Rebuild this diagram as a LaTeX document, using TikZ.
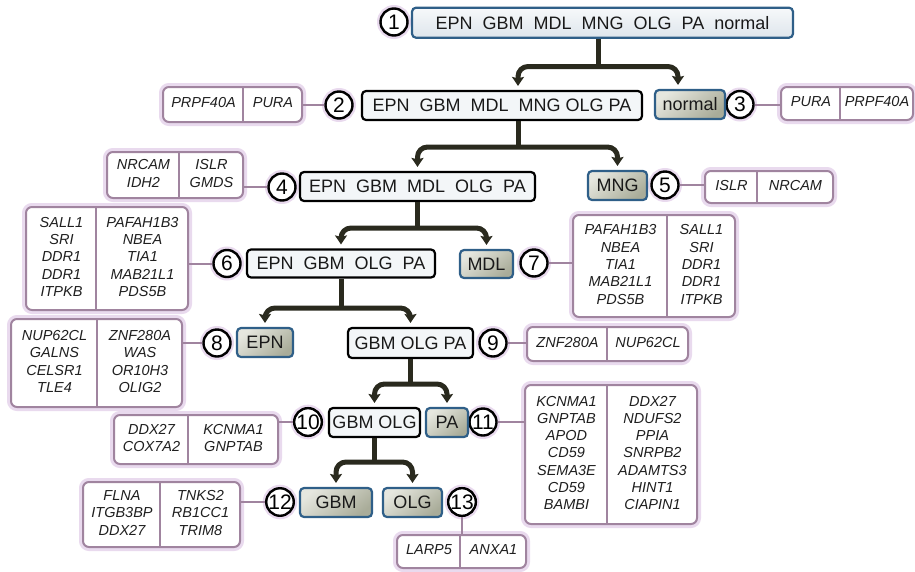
\documentclass[tikz,border=0pt]{standalone}
\usepackage{fontspec}
\setmainfont{Liberation Sans}
\usepackage{array}
\usetikzlibrary{arrows.meta}
\newcolumntype{C}[1]{>{\centering\arraybackslash}p{#1}}
\definecolor{treedark}{HTML}{2A2A1E}
\definecolor{leafedge}{HTML}{2F5F88}
\definecolor{leafhi}{HTML}{E6E7DF}
\definecolor{leaflo}{HTML}{A9AC99}
\definecolor{nodefill}{HTML}{F3F6F8}
\definecolor{geneedge}{HTML}{A0849F}
\definecolor{geneglow}{HTML}{E9DAEE}
\tikzset{
  splitbox/.style={draw=black, line width=2.2pt, rounded corners=4pt, fill=nodefill,
    inner sep=0pt, text=black!90, font=\fontsize{18}{20}\selectfont},
  topbox/.style={splitbox, draw=leafedge, top color=white!96!leafedge, bottom color=white!84!leafedge},
  leafbox/.style={splitbox, draw=leafedge, top color=leafhi, bottom color=leaflo, shading angle=40},
  genebox/.style={draw=geneedge, line width=2pt, rounded corners=6pt, fill=white, inner sep=0pt,
    text=black!88, font=\fontsize{14.5}{17.3}\selectfont\itshape,
    preaction={draw=geneglow, line width=8pt}},
  numring/.style={circle, draw=black, line width=2.4pt, fill=white, minimum size=27pt, inner sep=0pt,
    font=\fontsize{21}{21}\selectfont, preaction={draw=geneglow, line width=7pt}},
  genediv/.style={draw=geneedge, line width=2pt},
  geneline/.style={draw=geneedge, line width=2pt},
  trunk/.style={draw=treedark, line width=5pt},
  branch/.style={draw=treedark, line width=5pt, rounded corners=10pt,
    {Stealth[length=9pt,width=12pt,inset=1.5pt]}-{Stealth[length=9pt,width=12pt,inset=1.5pt]},
    shorten <=4pt, shorten >=4pt}
}
\begin{document}
\begin{tikzpicture}[x=1pt, y=-1pt]
  \useasboundingbox (0,0) rectangle (915,571);

  \node[numring] (n1) at (394,22) {1};
  \node[numring] (n2) at (339,105) {2};
  \node[numring] (n3) at (740,104.5) {3};
  \node[numring] (n4) at (282,187) {4};
  \node[numring] (n5) at (665,185) {5};
  \node[numring] (n6) at (227,263.5) {6};
  \node[numring] (n7) at (534,263) {7};
  \node[numring] (n8) at (217,343) {8};
  \node[numring] (n9) at (493,343) {9};
  \node[numring] (n10) at (308,422) {10};
  \node[numring] (n11) at (483,422) {11};
  \node[numring] (n12) at (280,502) {12};
  \node[numring] (n13) at (462,502) {13};

  \node[topbox, minimum width=381pt, minimum height=30pt] (root) at (602.5,22.7)
    {EPN~~GBM~~MDL~~MNG~~OLG~~PA~~normal};
  \node[splitbox, minimum width=280pt, minimum height=29pt] (s2) at (502,105.5)
    {EPN~~GBM~~MDL~~MNG OLG PA};
  \node[leafbox, minimum width=70pt, minimum height=29pt] (normal) at (690,104.5) {normal};
  \node[splitbox, minimum width=235pt, minimum height=29pt] (s4) at (417.5,186.5)
    {EPN~~GBM~~MDL~~OLG~~PA};
  \node[leafbox, minimum width=59pt, minimum height=29pt] (mng) at (617.5,185.5) {MNG};
  \node[splitbox, minimum width=188pt, minimum height=28pt] (s6) at (341,263.5)
    {EPN~~GBM~~OLG~~PA};
  \node[leafbox, minimum width=53pt, minimum height=28pt] (mdl) at (486.5,264) {MDL};
  \node[leafbox, minimum width=56pt, minimum height=29pt] (epn) at (265,342.5) {EPN};
  \node[splitbox, minimum width=125pt, minimum height=30pt] (s9) at (410.5,343) {GBM OLG PA};
  \node[splitbox, minimum width=91pt, minimum height=29pt] (s10) at (374.5,422.5) {GBM OLG};
  \node[leafbox, minimum width=42pt, minimum height=29pt] (pa) at (447,422.5) {PA};
  \node[leafbox, minimum width=72pt, minimum height=29pt] (gbm) at (336,502.5) {GBM};
  \node[leafbox, minimum width=59pt, minimum height=29pt] (olg) at (412.5,502.5) {OLG};

  \coordinate (j1) at (598,66.5);
  \coordinate (j2) at (518,147);
  \coordinate (j3) at (417.5,228);
  \coordinate (j4) at (341,308);
  \coordinate (j5) at (410.5,384);
  \coordinate (j6) at (374.5,462);
  \draw[trunk] (root.south -| j1) -- (j1);
  \draw[trunk] (s2.south -| j2) -- (j2);
  \draw[trunk] (s4.south) -- (j3);
  \draw[trunk] (s6.south) -- (j4);
  \draw[trunk] (s9.south) -- (j5);
  \draw[trunk] (s10.south) -- (j6);
  \draw[branch] (s2.north -| j2) |- (j1) -| ([xshift=-12pt]normal.north);
  \draw[branch] (s4.north) |- (j2) -| (mng.north);
  \draw[branch] (s6.north) |- (j3) -| (mdl.north);
  \draw[branch] (epn.north) |- (j4) -| (s9.north);
  \draw[branch] (s10.north) |- (j5) -| (pa.north);
  \draw[branch] (gbm.north) |- (j6) -| (olg.north);

  \node[genebox, minimum width=139pt, minimum height=35pt] (g2) at (232.5,104.5)
    {\begin{tabular}{@{}C{81pt}@{}C{58pt}@{}}PRPF40A & PURA\end{tabular}};
  \node[genebox, minimum width=132pt, minimum height=33pt] (g3) at (847,103.5)
    {\begin{tabular}{@{}C{60pt}@{}C{72pt}@{}}PURA & PRPF40A\end{tabular}};
  \node[genebox, minimum width=136pt, minimum height=46pt] (g4) at (175,175)
    {\begin{tabular}{@{}C{73pt}@{}C{63pt}@{}}NRCAM & ISLR\\ IDH2 & GMDS\end{tabular}};
  \node[genebox, minimum width=128pt, minimum height=32pt] (g5) at (769,187)
    {\begin{tabular}{@{}C{53pt}@{}C{75pt}@{}}ISLR & NRCAM\end{tabular}};
  \node[genebox, minimum width=162pt, minimum height=103pt] (g6) at (107,258.5)
    {\begin{tabular}{@{}C{71pt}@{}C{91pt}@{}}SALL1 & PAFAH1B3\\ SRI & NBEA\\ DDR1 & TIA1\\
     DDR1 & MAB21L1\\ ITPKB & PDS5B\end{tabular}};
  \node[genebox, minimum width=162pt, minimum height=102pt] (g7) at (654,266)
    {\begin{tabular}{@{}C{95pt}@{}C{67pt}@{}}PAFAH1B3 & SALL1\\ NBEA & SRI\\ TIA1 & DDR1\\
     MAB21L1 & DDR1\\ PDS5B & ITPKB\end{tabular}};
  \node[genebox, minimum width=171pt, minimum height=88pt] (g8) at (96.5,363)
    {\begin{tabular}{@{}C{87pt}@{}C{84pt}@{}}NUP62CL & ZNF280A\\ GALNS & WAS\\
     CELSR1 & OR10H3\\ TLE4 & OLIG2\end{tabular}};
  \node[genebox, minimum width=161pt, minimum height=34pt] (g9) at (607.5,344)
    {\begin{tabular}{@{}C{81pt}@{}C{80pt}@{}}ZNF280A & NUP62CL\end{tabular}};
  \node[genebox, minimum width=164pt, minimum height=49pt] (g10) at (196,439.5)
    {\begin{tabular}{@{}C{75pt}@{}C{89pt}@{}}DDX27 & KCNMA1\\ COX7A2 & GNPTAB\end{tabular}};
  \node[genebox, minimum width=172pt, minimum height=139pt] (g11) at (611,454.5)
    {\begin{tabular}{@{}C{83pt}@{}C{89pt}@{}}KCNMA1 & DDX27\\ GNPTAB & NDUFS2\\ APOD & PPIA\\
     CD59 & SNRPB2\\ SEMA3E & ADAMTS3\\ CD59 & HINT1\\ BAMBI & CIAPIN1\end{tabular}};
  \node[genebox, minimum width=157pt, minimum height=65pt] (g12) at (161.5,514.5)
    {\begin{tabular}{@{}C{78pt}@{}C{79pt}@{}}FLNA & TNKS2\\ ITGB3BP & RB1CC1\\
     DDX27 & TRIM8\end{tabular}};
  \node[genebox, minimum width=129pt, minimum height=33pt] (g13) at (461.5,551.5)
    {\begin{tabular}{@{}C{64pt}@{}C{65pt}@{}}LARP5 & ANXA1\end{tabular}};

  \draw[genediv] ([xshift=81pt]g2.north west) -- ([xshift=81pt]g2.south west);
  \draw[genediv] ([xshift=60pt]g3.north west) -- ([xshift=60pt]g3.south west);
  \draw[genediv] ([xshift=73pt]g4.north west) -- ([xshift=73pt]g4.south west);
  \draw[genediv] ([xshift=53pt]g5.north west) -- ([xshift=53pt]g5.south west);
  \draw[genediv] ([xshift=71pt]g6.north west) -- ([xshift=71pt]g6.south west);
  \draw[genediv] ([xshift=95pt]g7.north west) -- ([xshift=95pt]g7.south west);
  \draw[genediv] ([xshift=87pt]g8.north west) -- ([xshift=87pt]g8.south west);
  \draw[genediv] ([xshift=81pt]g9.north west) -- ([xshift=81pt]g9.south west);
  \draw[genediv] ([xshift=75pt]g10.north west) -- ([xshift=75pt]g10.south west);
  \draw[genediv] ([xshift=83pt]g11.north west) -- ([xshift=83pt]g11.south west);
  \draw[genediv] ([xshift=78pt]g12.north west) -- ([xshift=78pt]g12.south west);
  \draw[genediv] ([xshift=64pt]g13.north west) -- ([xshift=64pt]g13.south west);

  \draw[geneline] (n2.west) -- (n2.west -| g2.east);
  \draw[geneline] (n3.east) -- (n3.east -| g3.west);
  \draw[geneline] (n4.west) -- (n4.west -| g4.east);
  \draw[geneline] (n5.east) -- (n5.east -| g5.west);
  \draw[geneline] (n6.west) -- (n6.west -| g6.east);
  \draw[geneline] (n7.east) -- (n7.east -| g7.west);
  \draw[geneline] (n8.west) -- (n8.west -| g8.east);
  \draw[geneline] (n9.east) -- (n9.east -| g9.west);
  \draw[geneline] (n10.west) -- (n10.west -| g10.east);
  \draw[geneline] (n11.east) -- (n11.east -| g11.west);
  \draw[geneline] (n12.west) -- (n12.west -| g12.east);
  \draw[geneline] (n13.south) -- (n13.south |- g13.north);
\end{tikzpicture}
\end{document}
